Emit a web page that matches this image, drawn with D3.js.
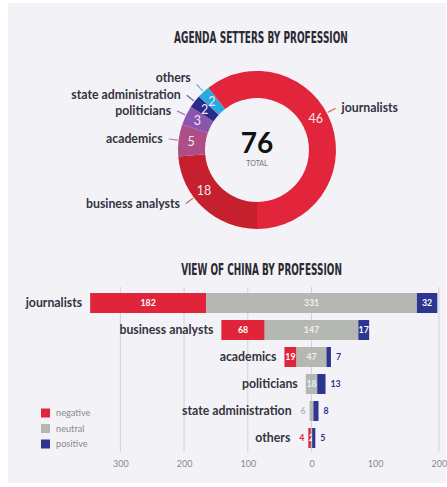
<!DOCTYPE html>
<html><head><meta charset="utf-8">
<script src="https://cdn.jsdelivr.net/npm/d3@7"></script>
<style>
html,body{margin:0;padding:0;background:#fff;}
svg{display:block;}
</style></head>
<body>
<svg id="c" width="447" height="487"></svg>
<script>
// ---- data ----
const professions = ["business analysts","academics","politicians","state administration","others","journalists"];
const agendaCounts = [18,5,3,2,2,46];
const sliceColors = ["#c61f2e","#ad4f86","#8a55ae","#2b2c8a","#2aa8e0","#e2253a"];

const viewCategories = ["journalists","business analysts","academics","politicians","state administration","others"];
const negativeVals = [182,68,19,0,0,4];
const neutralVals  = [331,147,47,18,6,2];
const positiveVals = [32,17,7,13,8,5];
const tickValues = [-300,-200,-100,0,100,200];
const gridValues = [-300,-200,-100,0,200];
const legendLabels = ["negative","neutral","positive"];
const sentimentColors = ["#e0253a","#b5b7b2","#2c3590"];

const svg = d3.select("#c");
const textCol = "#34343f";
const sans = "Lato, 'Open Sans', sans-serif";
const narrow = "'Liberation Sans Narrow','DejaVu Sans Condensed','Roboto Condensed',sans-serif";
const labelSize = 12.3;

svg.append("rect").attr("x",8).attr("y",3).attr("width",438).attr("height",480).attr("fill","#f2f2f7");

// ---- titles (condensed to the target width with a horizontal scale) ----
function title(txt, cxp, base, width){
  const t = svg.append("text").attr("x",0).attr("y",0).attr("text-anchor","middle")
    .attr("font-family",narrow).attr("font-weight","bold").attr("font-size",16)
    .attr("fill","#2a2a33").text(txt);
  const w = t.node().getComputedTextLength();
  t.attr("transform",`translate(${cxp},${base}) scale(${width/w},1)`);
}
title("AGENDA SETTERS BY PROFESSION",261,43,174);
title("VIEW OF CHINA BY PROFESSION",261.5,275,161);

// ---- donut ----
const cx = 257, cy = 150, R = 79, r = 52;
const pie = d3.pie().sort(null).startAngle(Math.PI).endAngle(3*Math.PI);
const arcs = pie(agendaCounts);
const arc = d3.arc().innerRadius(r).outerRadius(R);
const g = svg.append("g").attr("transform",`translate(${cx},${cy})`);
g.selectAll("path").data(arcs).join("path")
  .attr("d",arc).attr("fill",(d,i)=>sliceColors[i]);

// label angle overrides for the two large slices (layout only)
const labelAngleDeg = {"journalists":62,"business analysts":233};
const labelDy = {"others":-7};
arcs.forEach((d,i)=>{
  const name = professions[i];
  let a = (d.startAngle+d.endAngle)/2;
  if (labelAngleDeg[name]!==undefined) a = labelAngleDeg[name]*Math.PI/180;
  const sin = Math.sin(a), cos = -Math.cos(a);
  const vr = (R+r)/2+1;
  g.append("text").attr("x",vr*sin).attr("y",vr*cos+4.5).attr("text-anchor","middle")
    .attr("font-family",sans).attr("font-size",12.5).attr("fill","#f4e8ee").text(agendaCounts[i]);
  const r1 = R+1, r2 = R+10;
  g.append("line").attr("x1",r1*sin).attr("y1",r1*cos).attr("x2",r2*sin).attr("y2",r2*cos)
    .attr("stroke",sliceColors[i]).attr("stroke-opacity",0.75).attr("stroke-width",1.2);
  const right = sin>0;
  g.append("text").attr("x",r2*sin+(right?6:-6)).attr("y",r2*cos+4+(labelDy[name]||0))
    .attr("text-anchor",right?"start":"end").attr("font-family",sans).attr("font-weight","bold")
    .attr("font-size",labelSize).attr("fill",textCol).text(name);
});
g.append("text").attr("x",0).attr("y",3).attr("text-anchor","middle").attr("font-family",sans)
  .attr("font-weight","bold").attr("font-size",28).attr("fill","#111").text(d3.sum(agendaCounts));
g.append("text").attr("x",0).attr("y",16).attr("text-anchor","middle").attr("font-family",sans)
  .attr("font-size",7).attr("fill","#777").text("TOTAL");

// ---- diverging bars ----
const x = d3.scaleLinear().domain([-300,200]).range([120.4,438.9]);
const y = d3.scaleBand().domain(viewCategories).range([289.5,451.5]).paddingInner(0.26).paddingOuter(0.13);

svg.append("g").selectAll("line").data(gridValues).join("line")
  .attr("x1",d=>x(d)).attr("x2",d=>x(d)).attr("y1",287).attr("y2",452)
  .attr("stroke","#d3d3d8").attr("stroke-width",1);

const axis = d3.axisBottom(x).tickValues(tickValues).tickSize(0).tickFormat(d=>Math.abs(d));
const ax = svg.append("g").attr("transform","translate(0,458)").call(axis);
ax.select(".domain").remove();
ax.selectAll("text").attr("font-family",sans).attr("font-size",9).attr("fill","#8a8a90");

const bars = svg.append("g");
viewCategories.forEach((cat,i)=>{
  const neg = negativeVals[i], neu = neutralVals[i], pos = positiveVals[i];
  const segs = [
    {k:0, a:-neu/2-neg, b:-neu/2, v:neg},
    {k:1, a:-neu/2, b:neu/2, v:neu},
    {k:2, a:neu/2, b:neu/2+pos, v:pos}
  ];
  const y0 = y(cat), bh = y.bandwidth(), ym = y0+bh/2;
  let leftMost = x(segs[0].a);
  let leftLabel = false;
  segs.forEach(s=>{
    if (s.v<=0) return;
    const x0 = x(s.a), x1 = x(s.b), w = x1-x0;
    bars.append("rect").attr("x",x0).attr("y",y0).attr("width",w).attr("height",bh)
      .attr("fill",sentimentColors[s.k]);
    const t = bars.append("text").attr("y",ym+3.2).attr("font-family",sans)
      .attr("font-weight","bold").attr("font-size",8.8).text(s.v);
    if (w>=10) {
      t.attr("x",(x0+x1)/2).attr("text-anchor","middle").attr("fill", s.k===1?"#eef0ec":"#fff");
    } else if (s.k===2) {
      t.attr("x",x1+5).attr("text-anchor","start").attr("fill",sentimentColors[2]);
    } else if (s.k===0 || (s.k===1 && neg===0)) {
      t.attr("x",x0-4).attr("text-anchor","end").attr("fill",sentimentColors[s.k]);
      leftLabel = true;
    } else {
      t.attr("x",(x0+x1)/2).attr("text-anchor","middle").attr("fill","#fff");
    }
  });
  const labelX = leftMost - (leftLabel ? 18 : 8);
  bars.append("text").attr("x",labelX).attr("y",ym+4).attr("text-anchor","end")
    .attr("font-family",sans).attr("font-weight","bold").attr("font-size",labelSize).attr("fill",textCol).text(cat);
});

// ---- legend ----
const lg = svg.append("g");
legendLabels.forEach((l,i)=>{
  const yy = 413 + i*15.5;
  lg.append("rect").attr("x",41).attr("y",yy-4.5).attr("width",9).attr("height",9).attr("fill",sentimentColors[i]);
  lg.append("text").attr("x",56).attr("y",yy+3).attr("font-family",sans).attr("font-size",9.2)
    .attr("fill","#8a8a90").text(l);
});
</script>
</body></html>
